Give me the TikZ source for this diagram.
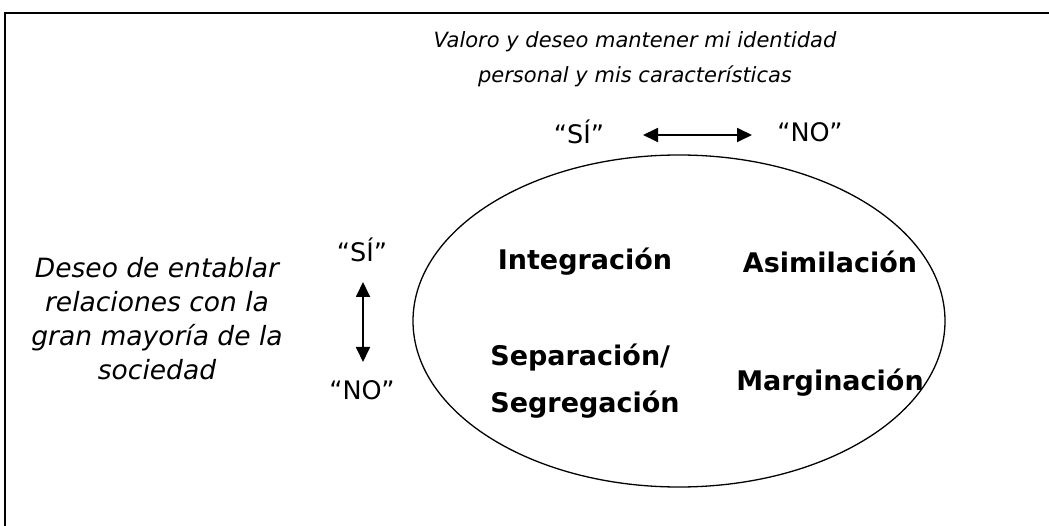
\documentclass[tikz,border=0pt]{standalone}
\usepackage{fontspec}
\setmainfont{DejaVu Sans}
\usetikzlibrary{arrows.meta,shapes.geometric}
\begin{document}
\begin{tikzpicture}[x=1pt,y=-1pt,
  lbl/.style={font=\fontsize{25.5}{28}\selectfont, inner sep=0pt, anchor=center},
  bold/.style={font=\fontsize{27}{30}\selectfont\bfseries, inner sep=0pt, anchor=center},
  side/.style={font=\fontsize{26.5}{34}\selectfont\itshape, inner sep=0pt, align=center, anchor=center},
  topt/.style={font=\fontsize{21}{35}\selectfont\itshape, inner sep=0pt, align=center, anchor=center},
  dbl/.style={{Triangle[length=15pt,width=14pt]}-{Triangle[length=15pt,width=14pt]}, line width=1.8pt}]
\useasboundingbox (0,0) rectangle (1049,526);
\fill[white] (0,0) rectangle (1049,526);
\coordinate (tr) at (1049,13);
\coordinate (tl) at (5,13);
\coordinate (bl) at (5,526);
\draw[line width=2pt] (tr) -- (tl) -- (bl);
\node[topt] (top) at (635,59) {Valoro y deseo mantener mi identidad\\personal y mis características};
\node[lbl] (si1) at (579,132) {“SÍ”};
\node[lbl] (no1) at (810,132) {“NO”};
\coordinate (a1) at (643,135);
\coordinate (b1) at (752,135);
\draw[dbl] (a1) -- (b1);
\node[draw, line width=1.3pt, ellipse, minimum width=532pt, minimum height=332pt, inner sep=0pt] (ell) at (679,321) {};
\node[bold] (int) at (585,262) {Integración};
\node[bold] (asi) at (830,262) {Asimilación};
\node[bold, align=left, font=\fontsize{27}{47}\selectfont\bfseries] (sep) at (585,381) {Separación/\\Segregación};
\node[bold] (mar) at (830,383) {Marginación};
\node[side] (left) at (157,319) {Deseo de entablar\\relaciones con la\\gran mayoría de la\\sociedad};
\node[lbl] (si2) at (362,250) {“SÍ”};
\node[lbl] (no2) at (362,390) {“NO”};
\coordinate (a2) at (363,282);
\coordinate (b2) at (363,362);
\draw[dbl] (a2) -- (b2);
\end{tikzpicture}
\end{document}
